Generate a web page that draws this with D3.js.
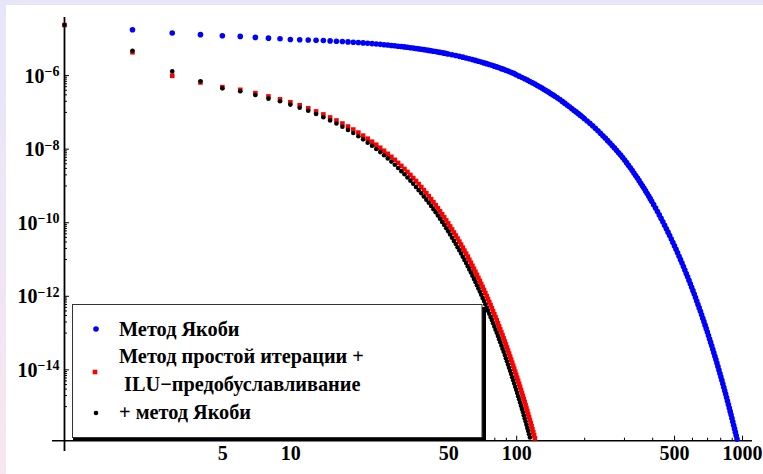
<!DOCTYPE html>
<html><head><meta charset="utf-8">
<script src="https://cdn.jsdelivr.net/npm/d3@7"></script>
<style>
html,body{margin:0;padding:0;background:#fff;}
svg{display:block;}
text{font-family:"Liberation Serif","Times New Roman",serif;font-weight:bold;}
</style></head><body>
<svg id="chart" width="763" height="474"></svg>
<script>
// ---- data ----
const jacobiIter = [2,3,4,5,6,7,8,9,10,11,12,13,14,15,16,17,18,19,20,21,22,23,24,25,26,27,28,29,30,31,32,33,34,35,36,37,38,39,40,41,42,43,44,45,46,47,48,49,50,
52,54,56,58,60,62,64,66,68,70,72,74,76,78,80,82,84,86,88,90,92,94,96,98,
100,103,106,109,112,115,118,121,124,127,130,133,136,139,142,145,148,
152,156,160,164,168,172,176,180,184,188,192,196,200,
206,212,218,224,230,236,242,248,254,260,266,272,278,284,290,296,302,308,314,320,326,332,338,344,350,356,362,368,374,380,386,392,398,
406,414,422,430,438,446,454,462,470,478,486,494,502,510,518,526,534,542,550,558,566,574,582,590,598,606,614,622,630,638,646,654,662,670,678,686,694,702,710,718,726,734,742,750,758,766,774,782,790,798,806,814,822,830,838,846,854,862,870,878,886,894,902,910,918,926,934,942,950];
const jacobiResidual = [1.71e-5,1.40e-5,1.26e-5,1.18e-5,1.13e-5,1.06e-5,1.01e-5,9.77e-6,
9.33e-6,9.18e-6,9.02e-6,8.86e-6,8.69e-6,8.52e-6,8.35e-6,8.18e-6,8.01e-6,7.85e-6,
7.68e-6,7.51e-6,7.35e-6,7.19e-6,7.03e-6,6.87e-6,6.72e-6,6.57e-6,6.41e-6,6.27e-6,
6.12e-6,5.98e-6,5.84e-6,5.70e-6,5.57e-6,5.43e-6,5.31e-6,5.18e-6,5.06e-6,4.93e-6,
4.82e-6,4.70e-6,4.59e-6,4.47e-6,4.37e-6,4.26e-6,4.16e-6,4.05e-6,3.95e-6,3.86e-6,3.76e-6,
3.58e-6,3.40e-6,3.24e-6,3.08e-6,2.93e-6,2.78e-6,2.64e-6,2.51e-6,2.39e-6,2.27e-6,2.15e-6,2.05e-6,1.94e-6,1.85e-6,1.75e-6,1.67e-6,1.58e-6,1.50e-6,1.43e-6,1.35e-6,1.29e-6,1.22e-6,1.16e-6,1.10e-6,
1.02e-6,9.38e-7,8.63e-7,7.94e-7,7.31e-7,6.73e-7,6.19e-7,5.69e-7,5.24e-7,4.82e-7,4.44e-7,4.08e-7,3.75e-7,3.45e-7,3.17e-7,2.92e-7,2.69e-7,
2.41e-7,2.16e-7,1.93e-7,1.73e-7,1.54e-7,1.38e-7,1.24e-7,1.11e-7,1.00e-7,9.03e-8,8.15e-8,7.37e-8,6.64e-8,
5.68e-8,4.88e-8,4.18e-8,3.58e-8,3.07e-8,2.63e-8,2.25e-8,1.93e-8,1.65e-8,1.42e-8,1.22e-8,1.05e-8,9.02e-9,7.77e-9,6.68e-9,5.74e-9,4.90e-9,4.17e-9,3.55e-9,3.03e-9,2.58e-9,2.19e-9,1.87e-9,1.59e-9,1.35e-9,1.15e-9,9.81e-10,8.35e-10,7.10e-10,6.05e-10,5.15e-10,4.38e-10,3.73e-10,
3.01e-10,2.42e-10,1.96e-10,1.58e-10,1.27e-10,1.03e-10,8.27e-11,6.67e-11,5.38e-11,4.34e-11,3.50e-11,2.82e-11,2.27e-11,1.83e-11,1.48e-11,1.19e-11,9.60e-12,7.74e-12,6.24e-12,5.03e-12,4.05e-12,3.27e-12,2.63e-12,2.12e-12,1.71e-12,1.38e-12,1.11e-12,8.95e-13,7.22e-13,5.81e-13,4.69e-13,3.78e-13,3.04e-13,2.45e-13,1.98e-13,1.59e-13,1.28e-13,1.03e-13,8.33e-14,6.71e-14,5.41e-14,4.36e-14,3.51e-14,2.83e-14,2.28e-14,1.84e-14,1.48e-14,1.19e-14,9.61e-15,7.74e-15,6.24e-15,5.02e-15,4.05e-15,3.26e-15,2.63e-15,2.12e-15,1.71e-15,1.37e-15,1.11e-15,8.92e-16,7.18e-16,5.79e-16,4.66e-16,3.75e-16,3.03e-16,2.44e-16,1.96e-16,1.58e-16,1.27e-16];

// simple iteration + ILU preconditioning, iterations 1..121
const iluResidual = [2.3e-5,4.17e-6,9.55e-7,6.31e-7,4.7e-7,3.98e-7,3.24e-7,2.63e-7,2.19e-7,
1.82e-7,1.51e-7,1.25e-7,1.03e-7,8.53e-8,7.05e-8,5.84e-8,4.83e-8,4.00e-8,3.31e-8,
2.74e-8,2.26e-8,1.87e-8,1.55e-8,1.28e-8,1.06e-8,8.77e-9,7.26e-9,6.01e-9,4.97e-9,
4.11e-9,3.40e-9,2.81e-9,2.33e-9,1.93e-9,1.59e-9,1.32e-9,1.09e-9,9.03e-10,7.47e-10,
6.18e-10,5.11e-10,4.23e-10,3.50e-10,2.90e-10,2.40e-10,1.98e-10,1.64e-10,1.36e-10,1.12e-10,
9.29e-11,7.69e-11,6.36e-11,5.26e-11,4.35e-11,3.60e-11,2.98e-11,2.47e-11,2.04e-11,1.69e-11,
1.40e-11,1.16e-11,9.56e-12,7.91e-12,6.54e-12,5.41e-12,4.48e-12,3.71e-12,3.07e-12,2.54e-12,
2.10e-12,1.74e-12,1.44e-12,1.19e-12,9.83e-13,8.14e-13,6.73e-13,5.57e-13,4.61e-13,3.81e-13,
3.15e-13,2.61e-13,2.16e-13,1.79e-13,1.48e-13,1.22e-13,1.01e-13,8.37e-14,6.93e-14,5.73e-14,
4.74e-14,3.92e-14,3.25e-14,2.69e-14,2.22e-14,1.84e-14,1.52e-14,1.26e-14,1.04e-14,8.61e-15,
7.13e-15,5.90e-15,4.88e-15,4.04e-15,3.34e-15,2.76e-15,2.29e-15,1.89e-15,1.57e-15,1.30e-15,
1.07e-15,8.87e-16,7.34e-16,6.07e-16,5.02e-16,4.15e-16,3.44e-16,2.84e-16,2.35e-16,1.95e-16,
1.61e-16,1.33e-16];

// ... + Jacobi, iterations 1..115
const iluJacobiResidual = [2.3e-5,4.57e-6,1.26e-6,6.76e-7,4.37e-7,3.63e-7,2.88e-7,2.29e-7,1.95e-7,
1.58e-7,1.30e-7,1.07e-7,8.74e-8,7.17e-8,5.87e-8,4.82e-8,3.95e-8,3.24e-8,2.66e-8,
2.18e-8,1.79e-8,1.46e-8,1.20e-8,9.84e-9,8.07e-9,6.62e-9,5.43e-9,4.45e-9,3.65e-9,
2.99e-9,2.45e-9,2.01e-9,1.65e-9,1.35e-9,1.11e-9,9.09e-10,7.46e-10,6.11e-10,5.01e-10,
4.11e-10,3.37e-10,2.76e-10,2.27e-10,1.86e-10,1.52e-10,1.25e-10,1.02e-10,8.40e-11,6.89e-11,
5.65e-11,4.63e-11,3.80e-11,3.11e-11,2.55e-11,2.09e-11,1.72e-11,1.41e-11,1.15e-11,9.47e-12,
7.76e-12,6.36e-12,5.22e-12,4.28e-12,3.51e-12,2.88e-12,2.36e-12,1.93e-12,1.59e-12,1.30e-12,
1.07e-12,8.74e-13,7.17e-13,5.88e-13,4.82e-13,3.95e-13,3.24e-13,2.66e-13,2.18e-13,1.79e-13,
1.47e-13,1.20e-13,9.85e-14,8.08e-14,6.63e-14,5.43e-14,4.45e-14,3.65e-14,3.00e-14,2.46e-14,
2.01e-14,1.65e-14,1.35e-14,1.11e-14,9.10e-15,7.46e-15,6.12e-15,5.02e-15,4.11e-15,3.37e-15,
2.77e-15,2.27e-15,1.86e-15,1.53e-15,1.25e-15,1.03e-15,8.41e-16,6.90e-16,5.65e-16,4.64e-16,
3.80e-16,3.12e-16,2.56e-16,2.10e-16,1.72e-16,1.41e-16];

const xTickLabels = [5, 10, 50, 100, 500, 1000];
const xMinorTicks = [2,3,4,6,7,8,9,20,30,40,60,70,80,90,200,300,400,600,700,800,900];
const yLabelExps = [-6, -8, -10, -12, -14];
const legendLabels = ["Метод Якоби", "Метод простой итерации +", " ILU\u2212предобуславливание", "+ метод Якоби"];

// ---- drawing ----
const svg = d3.select("#chart");
const W = 763, H = 474;

const defs = svg.append("defs");
const grad = defs.append("linearGradient").attr("id","leftGrad").attr("x1",0).attr("y1",0).attr("x2",0).attr("y2",1);
grad.append("stop").attr("offset","0%").attr("stop-color","#e7e5f8");
grad.append("stop").attr("offset","100%").attr("stop-color","#f6e7f0");
defs.append("clipPath").attr("id","plotClip").append("rect")
  .attr("x",50).attr("y",8).attr("width",710).attr("height",434);

svg.append("rect").attr("width",W).attr("height",H).attr("fill","#fff");
svg.append("rect").attr("x",0).attr("y",0).attr("width",W).attr("height",5).attr("fill","#e7e5f8");
svg.append("rect").attr("x",0).attr("y",0).attr("width",6).attr("height",H).attr("fill","url(#leftGrad)");

const x = d3.scaleLog().domain([Math.pow(10,-0.0553), Math.pow(10,3.044)]).range([52, 752]);
const y = d3.scaleLog().domain([Math.pow(10,-15.94), Math.pow(10,-4.42)]).range([440.7, 17]);
const x0 = x(1), yAxisY = y.range()[0];

// axes
const xAxisG = svg.append("g").attr("transform",`translate(0,${yAxisY})`);
xAxisG.call(d3.axisBottom(x).tickValues(xMinorTicks).tickSize(-3).tickSizeOuter(0).tickFormat(""));
const xMajG = svg.append("g").attr("transform",`translate(0,${yAxisY})`);
xMajG.call(d3.axisBottom(x).tickValues(xTickLabels).tickSize(-5).tickSizeOuter(0).tickPadding(5).tickFormat(d3.format("d")));
[xAxisG, xMajG].forEach(g => { g.select(".domain").remove(); g.selectAll("line").attr("stroke","#000").attr("stroke-width",1); });
xMajG.attr("font-size",20).attr("font-family",null);
xMajG.selectAll("text").attr("font-size",20).attr("fill","#000");

const yMinor = [];
yLabelExps.forEach(e => { for (let m = 1; m <= 9; m++) yMinor.push(m * Math.pow(10, e - 1)); });
const yMajorVals = yLabelExps.map(e => Math.pow(10, e));
const yAxisG = svg.append("g").attr("transform",`translate(${x0},0)`);
yAxisG.call(d3.axisLeft(y).tickValues(yMinor).tickSize(-2.5).tickSizeOuter(0).tickFormat(""));
const yMajG = svg.append("g").attr("transform",`translate(${x0},0)`);
yMajG.call(d3.axisLeft(y).tickValues(yMajorVals).tickSize(-4.5).tickSizeOuter(0).tickPadding(5));
[yAxisG, yMajG].forEach(g => { g.select(".domain").remove(); g.selectAll("line").attr("stroke","#000").attr("stroke-width",1); });
yMajG.attr("font-family",null);
yMajG.selectAll("text").each(function(d){
  const t = d3.select(this);
  const e = Math.round(Math.log10(d));
  t.text(null).attr("dy",null).attr("y",7).attr("fill","#000");
  t.append("tspan").attr("font-size",20).text("10");
  t.append("tspan").attr("font-size",14).attr("dy",-6.5).text("\u2212" + Math.abs(e));
});

// axis lines
svg.append("line").attr("x1",x.range()[0]).attr("x2",x.range()[1]).attr("y1",yAxisY).attr("y2",yAxisY)
  .attr("stroke","#000").attr("stroke-width",1.6);
svg.append("line").attr("x1",x0).attr("x2",x0).attr("y1",y.range()[1]).attr("y2",451)
  .attr("stroke","#000").attr("stroke-width",1.8);

// data
const plot = svg.append("g").attr("clip-path","url(#plotClip)");
const blueData = jacobiIter.map((n,i) => [n, jacobiResidual[i]]).filter(d => d[1] !== undefined);
const redData = iluResidual.map((v,i) => [i+1, v]);
const blackData = iluJacobiResidual.map((v,i) => [i+1, v]);

plot.append("g").selectAll("circle").data(blueData).join("circle")
  .attr("cx", d => x(d[0])).attr("cy", d => y(d[1])).attr("r", 2.8).attr("fill","#0000ff");
const sq = 4.6;
plot.append("g").selectAll("rect").data(redData).join("rect")
  .attr("x", d => x(d[0]) - sq/2).attr("y", d => y(d[1]) - sq/2).attr("width", sq).attr("height", sq).attr("fill","#ff0000");
plot.append("g").selectAll("circle").data(blackData).join("circle")
  .attr("cx", d => x(d[0])).attr("cy", d => y(d[1])).attr("r", 2.3).attr("fill","#000");

// legend
const lg = svg.append("g");
lg.append("rect").attr("x",73).attr("y",307).attr("width",413).attr("height",134).attr("fill","#000");
lg.append("rect").attr("x",72.5).attr("y",304.5).attr("width",409.5).attr("height",133).attr("fill","#fff")
  .attr("stroke","#333").attr("stroke-width",1);
const legText = (s, tx, ty) => lg.append("text").attr("x",tx).attr("y",ty)
  .attr("font-size",20.3).attr("fill","#000").style("white-space","pre").text(s);
lg.append("circle").attr("cx",96).attr("cy",329).attr("r",2.8).attr("fill","#0000ff");
legText(legendLabels[0], 119, 335.5);
lg.append("rect").attr("x",95-sq/2).attr("y",372-sq/2).attr("width",sq).attr("height",sq).attr("fill","#ff0000");
legText(legendLabels[1], 119, 363);
legText(legendLabels[2], 119, 391);
lg.append("circle").attr("cx",96).attr("cy",413).attr("r",2.3).attr("fill","#000");
legText(legendLabels[3], 119, 418.5);
</script>
</body></html>
